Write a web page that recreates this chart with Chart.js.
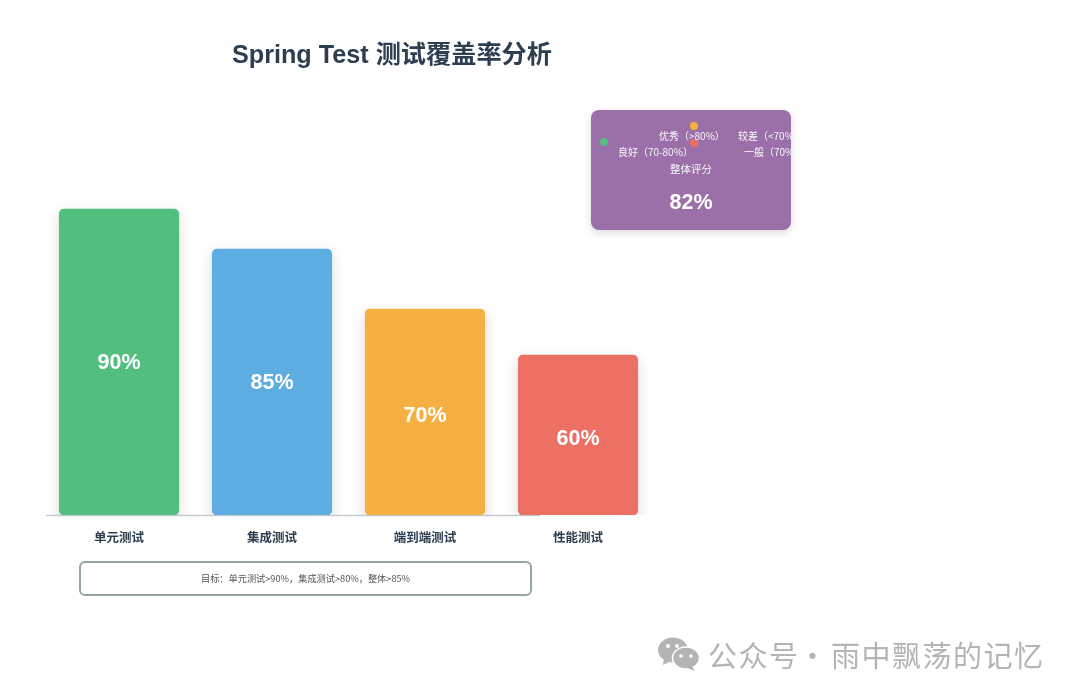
<!DOCTYPE html>
<html><head><meta charset="utf-8">
<script src="https://cdn.jsdelivr.net/npm/chart.js@4"></script>
<style>
html,body{margin:0;padding:0;background:#fff;width:1080px;height:697px;overflow:hidden;font-family:"Liberation Sans","Noto Sans CJK SC",sans-serif}
#wrap{position:absolute;left:0;top:0;width:1080px;height:697px}
canvas{position:absolute;left:0;top:0}
.t{position:absolute;white-space:nowrap}
#title{left:232px;top:38px;font-size:25.2px;font-weight:bold;color:#2c3e50;line-height:32px}
#card{position:absolute;left:591px;top:110px;width:200px;height:120px;background:#9b6fa8;border-radius:8px;box-shadow:0 3px 10px rgba(0,0,0,.14);overflow:hidden;color:#fff}
#card .t{font-size:10px;line-height:14px;font-family:"Noto Sans CJK SC",sans-serif;opacity:.95}
#card .dot{position:absolute;width:8px;height:8px;border-radius:50%}
#score{left:0;width:200px;text-align:center;top:79px;font:bold 21.5px/26px "Liberation Sans",sans-serif!important;opacity:1!important}
#note{position:absolute;left:79px;top:561px;width:449px;height:31px;border:2px solid #95a5a6;border-radius:6px;text-align:center;font:9.2px/31px "Noto Sans CJK SC",sans-serif;color:#555}
.wm{top:635px;font:29px/38px "Noto Sans CJK SC",sans-serif;color:#b4b4b4;letter-spacing:1.5px}
svg{position:absolute;left:657px;top:637px}
</style></head><body>
<div id="wrap">
<canvas id="c" width="1080" height="697"></canvas>
<div class="t" id="title">Spring Test 测试覆盖率分析</div>
<div id="card">
<span class="dot" style="left:9px;top:28px;background:#52be80"></span>
<span class="dot" style="left:99px;top:12px;background:#f5b041"></span>
<span class="dot" style="left:99px;top:29px;background:#ec7063"></span>
<div class="t" style="left:68px;top:19px">优秀（&gt;80%）</div>
<div class="t" style="left:147px;top:19px">较差（&lt;70%）</div>
<div class="t" style="left:27px;top:35px">良好（70-80%）</div>
<div class="t" style="left:153px;top:35px">一般（70%）</div>
<div class="t" style="left:0;width:200px;text-align:center;top:52px;font-size:10.5px">整体评分</div>
<div class="t" id="score">82%</div>
</div>
<div id="note">目标：单元测试&gt;90%，集成测试&gt;80%，整体&gt;85%</div>
<svg width="44" height="34" viewBox="0 0 44 34"><ellipse cx="16" cy="13" rx="15" ry="12.5" fill="#b4b4b4"/><path d="M7 21l-1 7 8-4z" fill="#b4b4b4"/><ellipse cx="29" cy="21" rx="13.5" ry="11" fill="#b4b4b4" stroke="#fff" stroke-width="1.5"/><path d="M35 29l3 5-8-3z" fill="#b4b4b4"/><circle cx="11" cy="9" r="2" fill="#fff"/><circle cx="20" cy="9" r="2" fill="#fff"/><circle cx="24" cy="19" r="1.8" fill="#fff"/><circle cx="34" cy="19" r="1.8" fill="#fff"/></svg>
<div class="t wm" style="left:708px">公众号</div>
<div class="t wm" style="left:798px">·</div>
<div class="t wm" style="left:831px">雨中飘荡的记忆</div>
</div>
<script>
const categories = ['单元测试','集成测试','端到端测试','性能测试'];
const valueLabels = ['90%','85%','70%','60%'];
// Bar heights as drawn in the picture, on a 0-100 scale (they are not proportional to their printed labels).
const barHeights = [90, 78.2, 60.6, 47];
const barColors = ['#52be80','#5dade2','#f5b041','#ec7063'];

const labelNudge = [1, 1, 4, 4];
const decorate = {
  id:'decorate',
  beforeDatasetsDraw(chart){
    const {ctx, scales:{x,y}} = chart;
    ctx.save();
    ctx.strokeStyle='#c4cacd'; ctx.lineWidth=1.5;
    ctx.beginPath();
    ctx.moveTo(x.left+3.5, y.bottom+.5);
    ctx.lineTo(x.getPixelForValue(2)+115, y.bottom+.5);
    ctx.stroke();
    ctx.restore();
  },
  beforeDatasetDraw(chart){
    const c=chart.ctx; c.save();
    c.shadowColor='rgba(0,0,0,.15)'; c.shadowBlur=14; c.shadowOffsetY=5;
  },
  afterDatasetDraw(chart){ chart.ctx.restore(); },
  afterDatasetsDraw(chart){
    const {ctx}=chart;
    ctx.save();
    ctx.fillStyle='#fff';
    ctx.font='bold 21.5px "Liberation Sans", sans-serif';
    ctx.textAlign='center'; ctx.textBaseline='middle';
    chart.getDatasetMeta(0).data.forEach((b,i)=>{
      ctx.fillText(valueLabels[i], b.x, (b.y+b.base)/2+labelNudge[i]);
    });
    ctx.restore();
  }
};

new Chart(document.getElementById('c'),{
  type:'bar',
  data:{labels:categories,datasets:[{data:barHeights,backgroundColor:barColors,borderRadius:5,borderSkipped:false,barThickness:119.5}]},
  options:{
    responsive:false,animation:false,
    layout:{padding:{left:42.5,right:425.5,top:175,bottom:0}},
    plugins:{legend:{display:false},title:{display:false},tooltip:{enabled:false}},
    scales:{
      x:{grid:{display:false},border:{display:false},
         afterFit(s){s.height=182;},
         ticks:{color:'#2c3e50',padding:7,maxRotation:0,font:{size:12.5,weight:'bold',family:'"Noto Sans CJK SC", sans-serif'}}},
      y:{display:false,min:0,max:100}
    }
  },
  plugins:[decorate]
});
</script>
</body></html>
